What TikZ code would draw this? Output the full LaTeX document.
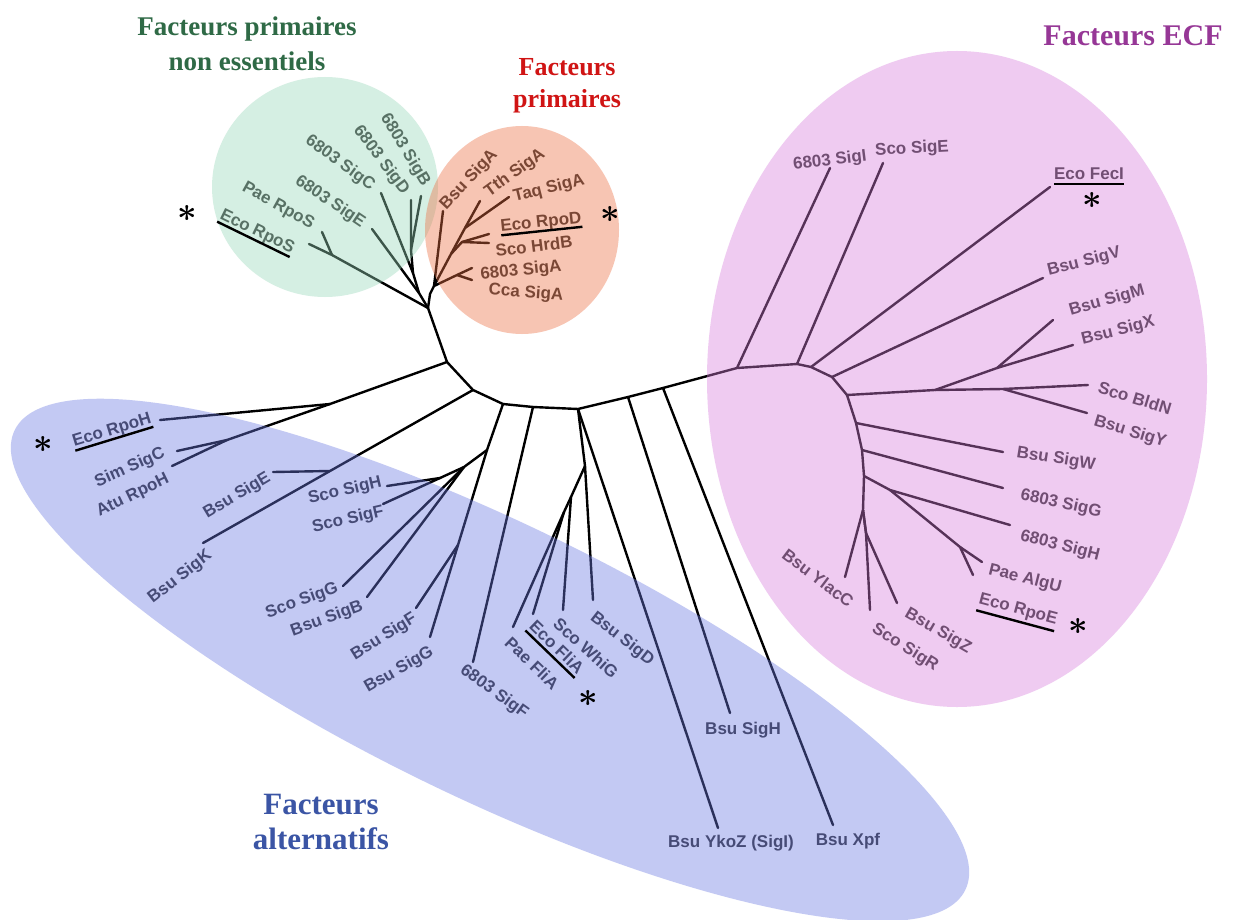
\documentclass[tikz,border=0pt]{standalone}
\usepackage{fontspec}
\setmainfont{Liberation Serif}
\newfontfamily\lblfont{Liberation Sans}
\usetikzlibrary{calc}
\definecolor{gfill}{RGB}{152,215,185}
\definecolor{ofill}{RGB}{237,110,65}
\definecolor{pfill}{RGB}{215,127,220}
\definecolor{bfill}{RGB}{107,120,227}
\definecolor{tgreen}{RGB}{47,106,70}
\definecolor{tred}{RGB}{208,20,20}
\definecolor{tpurple}{RGB}{150,55,150}
\definecolor{tblue}{RGB}{59,85,165}
\newcommand{\ulabel}[2]{\draw[ul] ($(#1.base west)!#2!-90:(#1.base east)$) -- ($(#1.base east)!#2!90:(#1.base west)$);}
\begin{document}
\begin{tikzpicture}[x=1pt,y=-1pt,
  br/.style={line width=2.4pt, line cap=round, line join=round, draw=black},
  lbl/.style={font=\lblfont\bfseries\fontsize{17}{20}\selectfont, text=black!82, inner sep=0pt},
  ul/.style={line width=2.4pt, draw=black},
  starmark/.style={inner sep=0pt, scale=3.4, font=\boldmath},
  overlay/.style={fill opacity=0.4}
]
\path[use as bounding box] (0,0) rectangle (1233,920);
\fill[white] (0,0) rectangle (1233,920);

% ---------- coordinates ----------
% backbone
\coordinate (R0) at (428,308);
\coordinate (B1) at (447,362);
\coordinate (B2) at (473,390);
\coordinate (B3) at (503,404);
\coordinate (B3b) at (533,407);
\coordinate (B4) at (578,409);
\coordinate (B5) at (628,397);
\coordinate (B6) at (663,388);
\coordinate (P1) at (737,368);
\coordinate (P2) at (797,364);
\coordinate (P3) at (811,367);
\coordinate (P4) at (832,377);
\coordinate (P5) at (847,395);
\coordinate (P6) at (856,423);
\coordinate (P7) at (862,450);
\coordinate (P8) at (864,476);
\coordinate (P9) at (863,510);
\coordinate (P10) at (866,533);
% green
\coordinate (G1) at (419,293);
\coordinate (G2) at (413,273);
\coordinate (G3) at (411,250);
\coordinate (Gr) at (332,255);
\coordinate (lEcoRpoS) at (309,244);
\coordinate (lPaeRpoS) at (322,232);
\coordinate (lSigE6) at (372,229);
\coordinate (lSigC6) at (381,193);
\coordinate (lSigD6) at (411,200);
\coordinate (lSigB6) at (421,196);
% orange
\coordinate (O0) at (430,294);
\coordinate (O1) at (434,286);
\coordinate (O2) at (451,254);
\coordinate (O3) at (465,228);
\coordinate (O4) at (462,242);
\coordinate (O5) at (457,275);
\coordinate (lBsuSigA) at (443,211);
\coordinate (lTthSigA) at (480,201);
\coordinate (lTaqSigA) at (509,197);
\coordinate (lEcoRpoD) at (489,234);
\coordinate (lScoHrdB) at (489,243);
\coordinate (lSigA6) at (472,268);
\coordinate (lCcaSigA) at (472,280);
% blue
\coordinate (H0) at (330,404);
\coordinate (H1) at (227,440);
\coordinate (lEcoRpoH) at (160,420);
\coordinate (lSimSigC) at (177,451);
\coordinate (lAtuRpoH) at (172,466);
\coordinate (K1) at (330,471);
\coordinate (lBsuSigK) at (203,543);
\coordinate (lBsuSigE) at (273,472);
\coordinate (S0) at (487,450);
\coordinate (S1) at (464,467);
\coordinate (S2) at (440,478);
\coordinate (S3) at (458,545);
\coordinate (lScoSigH) at (387,486);
\coordinate (lScoSigF) at (383,504);
\coordinate (lScoSigG) at (343,586);
\coordinate (lBsuSigB) at (367,597);
\coordinate (lBsuSigF) at (416,608);
\coordinate (lBsuSigG) at (430,637);
\coordinate (lSigF6) at (473,662);
\coordinate (F1) at (585,466);
\coordinate (F2) at (571,497);
\coordinate (F3) at (564,512);
\coordinate (lBsuSigD) at (593,600);
\coordinate (lScoWhiG) at (563,610);
\coordinate (lEcoFliA) at (533,614);
\coordinate (lPaeFliA) at (513,627);
\coordinate (lBsuYkoZ) at (718,828);
\coordinate (lBsuSigH) at (730,713);
\coordinate (lBsuXpf) at (833,825);
% purple
\coordinate (Q1) at (935,390);
\coordinate (Q2) at (1003,389);
\coordinate (Q3) at (997,368);
\coordinate (Q4) at (890,490);
\coordinate (Q5) at (960,547);
\coordinate (lSigI6) at (830,168);
\coordinate (lScoSigE) at (883,163);
\coordinate (lEcoFecI) at (1050,187);
\coordinate (lBsuSigV) at (1043,278);
\coordinate (lScoBldN) at (1088,385);
\coordinate (lBsuSigM) at (1053,320);
\coordinate (lBsuSigX) at (1073,345);
\coordinate (lBsuSigY) at (1087,413);
\coordinate (lBsuSigW) at (1003,452);
\coordinate (lSigG6) at (1003,488);
\coordinate (lSigH6) at (1010,525);
\coordinate (lPaeAlgU) at (982,562);
\coordinate (lEcoRpoE) at (973,575);
\coordinate (lBsuYlacC) at (845,577);
\coordinate (lScoSigR) at (870,610);
\coordinate (lBsuSigZ) at (897,603);

% ---------- branches ----------
\draw[br] (R0) -- (B1) -- (B2) -- (B3) -- (B3b) -- (B4) -- (B5) -- (B6) -- (P1) -- (P2) -- (P3) -- (P4) -- (P5) -- (P6) -- (P7) -- (P8) -- (P9) -- (P10);
% green subtree
\draw[br] (R0) -- (Gr) -- (lEcoRpoS);
\draw[br] (Gr) -- (lPaeRpoS);
\draw[br] (R0) -- (G1) -- (G2) -- (G3) -- (lSigD6);
\draw[br] (G3) -- (lSigB6);
\draw[br] (G2) -- (lSigC6);
\draw[br] (G1) -- (lSigE6);
% orange subtree
\draw[br] (R0) -- (O0) -- (O1) -- (O2) -- (O3) -- (lTthSigA);
\draw[br] (O3) -- (lTaqSigA);
\draw[br] (O2) -- (O4) -- (lEcoRpoD);
\draw[br] (O4) -- (lScoHrdB);
\draw[br] (O1) -- (lBsuSigA);
\draw[br] (O1) -- (O5) -- (lSigA6);
\draw[br] (O5) -- (lCcaSigA);
% blue subtrees
\draw[br] (B1) -- (H0) -- (H1) -- (lSimSigC);
\draw[br] (H1) -- (lAtuRpoH);
\draw[br] (H0) -- (lEcoRpoH);
\draw[br] (B2) -- (K1) -- (lBsuSigK);
\draw[br] (K1) -- (lBsuSigE);
\draw[br] (B3) -- (S0) -- (S1) -- (S2) -- (lScoSigH);
\draw[br] (S2) -- (lScoSigF);
\draw[br] (S1) -- (lScoSigG);
\draw[br] (S1) -- (lBsuSigB);
\draw[br] (S0) -- (S3) -- (lBsuSigG);
\draw[br] (S3) -- (lBsuSigF);
\draw[br] (B3b) -- (lSigF6);
\draw[br] (B4) -- (F1) -- (lBsuSigD);
\draw[br] (F1) -- (F2) -- (lScoWhiG);
\draw[br] (F2) -- (F3) -- (lPaeFliA);
\draw[br] (F3) -- (lEcoFliA);
\draw[br] (B4) -- (lBsuYkoZ);
\draw[br] (B5) -- (lBsuSigH);
\draw[br] (B6) -- (lBsuXpf);
% purple subtree
\draw[br] (P1) -- (lSigI6);
\draw[br] (P2) -- (lScoSigE);
\draw[br] (P3) -- (lEcoFecI);
\draw[br] (P4) -- (lBsuSigV);
\draw[br] (P5) -- (Q1) -- (Q2) -- (lScoBldN);
\draw[br] (Q1) -- (Q3) -- (lBsuSigM);
\draw[br] (Q3) -- (lBsuSigX);
\draw[br] (Q2) -- (lBsuSigY);
\draw[br] (P6) -- (lBsuSigW);
\draw[br] (P7) -- (lSigG6);
\draw[br] (P8) -- (Q4) -- (lSigH6);
\draw[br] (Q4) -- (Q5) -- (lPaeAlgU);
\draw[br] (Q5) -- (lEcoRpoE);
\draw[br] (P9) -- (lBsuYlacC);
\draw[br] (P9) -- (P10) -- (lScoSigR);
\draw[br] (P10) -- (lBsuSigZ);

% ---------- labels ----------
% green
\node[lbl, rotate=-59] (tSigB6) at (405,150) {6803 SigB};
\node[lbl, rotate=-53] (tSigD6) at (381,160) {6803 SigD};
\node[lbl, rotate=-36] (tSigC6) at (340,163) {6803 SigC};
\node[lbl, rotate=-34] (tSigE6) at (330,202) {6803 SigE};
\node[lbl, rotate=-29] (tPaeRpoS) at (278,206) {Pae RpoS};
\node[lbl, rotate=-26] (tEcoRpoS) at (257,232) {Eco RpoS};
% orange
\node[lbl, rotate=47] (tBsuSigA) at (469,180) {Bsu SigA};
\node[lbl, rotate=36] (tTthSigA) at (515,173) {Tth SigA};
\node[lbl, rotate=14] (tTaqSigA) at (549,189) {Taq SigA};
\node[lbl, rotate=6] (tEcoRpoD) at (541,223) {Eco RpoD};
\node[lbl, rotate=7] (tScoHrdB) at (534,246) {Sco HrdB};
\node[lbl, rotate=6] (tSigA6) at (521,271) {6803 SigA};
\node[lbl, rotate=-4] (tCcaSigA) at (526,293) {Cca SigA};
% blue
\node[lbl, rotate=17] (tEcoRpoH) at (112,431) {Eco RpoH};
\node[lbl, rotate=24] (tSimSigC) at (130,468) {Sim SigC};
\node[lbl, rotate=26] (tAtuRpoH) at (133,496) {Atu RpoH};
\node[lbl, rotate=31] (tBsuSigE) at (237,496) {Bsu SigE};
\node[lbl, rotate=38] (tBsuSigK) at (180,577) {Bsu SigK};
\node[lbl, rotate=13] (tScoSigH) at (345,491) {Sco SigH};
\node[lbl, rotate=13] (tScoSigF) at (348,520) {Sco SigF};
\node[lbl, rotate=20] (tScoSigG) at (302,601) {Sco SigG};
\node[lbl, rotate=20] (tBsuSigB) at (327,619) {Bsu SigB};
\node[lbl, rotate=32] (tBsuSigF) at (384,637) {Bsu SigF};
\node[lbl, rotate=30] (tBsuSigG) at (399,670) {Bsu SigG};
\node[lbl, rotate=-36] (tSigF6) at (494,692) {6803 SigF};
\node[lbl, rotate=-44] (tPaeFliA) at (532,663) {Pae FliA};
\node[lbl, rotate=-44] (tEcoFliA) at (557,647) {Eco FliA};
\node[lbl, rotate=-42] (tScoWhiG) at (586,648) {Sco WhiG};
\node[lbl, rotate=-38] (tBsuSigD) at (622,639) {Bsu SigD};
\node[lbl] (tBsuSigH) at (743,730) {Bsu SigH};
\node[lbl] (tBsuYkoZ) at (731,843) {Bsu YkoZ (SigI)};
\node[lbl] (tBsuXpf) at (848,841) {Bsu Xpf};
% purple
\node[lbl, rotate=7] (tSigI6) at (830,161) {6803 SigI};
\node[lbl, rotate=3] (tScoSigE) at (912,149) {Sco SigE};
\node[lbl] (tEcoFecI) at (1089,174) {Eco FecI};
\node[lbl, rotate=14] (tBsuSigV) at (1084,262) {Bsu SigV};
\node[lbl, rotate=16] (tBsuSigM) at (1107,301) {Bsu SigM};
\node[lbl, rotate=14] (tBsuSigX) at (1118,331) {Bsu SigX};
\node[lbl, rotate=-17] (tScoBldN) at (1135,398) {Sco BldN};
\node[lbl, rotate=-17] (tBsuSigY) at (1130,432) {Bsu SigY};
\node[lbl, rotate=-9] (tBsuSigW) at (1056,459) {Bsu SigW};
\node[lbl, rotate=-12] (tSigG6) at (1061,504) {6803 SigG};
\node[lbl, rotate=-14] (tSigH6) at (1060,546) {6803 SigH};
\node[lbl, rotate=-14] (tPaeAlgU) at (1025,579) {Pae AlgU};
\node[lbl, rotate=-15] (tEcoRpoE) at (1018,610) {Eco RpoE};
\node[lbl, rotate=-37] (tBsuYlacC) at (818,578) {Bsu YlacC};
\node[lbl, rotate=-32] (tScoSigR) at (905,648) {Sco SigR};
\node[lbl, rotate=-30] (tBsuSigZ) at (938,631) {Bsu SigZ};

% ---------- coloured regions ----------
\fill[gfill, overlay] (325,187) ellipse [x radius=113, y radius=110];
\fill[ofill, overlay] (522,230) ellipse [x radius=97, y radius=104];
\fill[pfill, overlay] (957,379) ellipse [x radius=250, y radius=328];
\fill[bfill, overlay, rotate around={-25.8:(490,660)}] (490,660) ellipse [x radius=528, y radius=138];

% ---------- underlines and stars ----------
\ulabel{tEcoRpoS}{4pt}
\ulabel{tEcoRpoD}{4pt}
\ulabel{tEcoRpoH}{4pt}
\ulabel{tEcoFliA}{4pt}
\ulabel{tEcoFecI}{4pt}
\ulabel{tEcoRpoE}{7pt}
\node[starmark] (sEcoRpoS) at (187,213) {$\ast$};
\node[starmark] (sEcoRpoD) at (610,214) {$\ast$};
\node[starmark] (sEcoRpoH) at (43,444) {$\ast$};
\node[starmark] (sEcoFliA) at (588,698) {$\ast$};
\node[starmark] (sEcoFecI) at (1092,200) {$\ast$};
\node[starmark] (sEcoRpoE) at (1078,626) {$\ast$};

% ---------- titles ----------
\node[font=\bfseries\fontsize{27}{35}\selectfont, text=tgreen, align=center] (ttlGreen) at (247,44) {Facteurs primaires\\non essentiels};
\node[font=\bfseries\fontsize{26}{32}\selectfont, text=tred, align=center] (ttlRed) at (567,86) {Facteurs\\primaires};
\node[font=\bfseries\fontsize{30}{36}\selectfont, text=tpurple] (ttlPurple) at (1133,36) {Facteurs ECF};
\node[font=\bfseries\fontsize{31}{35}\selectfont, text=tblue, align=center] (ttlBlue) at (321,822) {Facteurs\\alternatifs};
\end{tikzpicture}
\end{document}
